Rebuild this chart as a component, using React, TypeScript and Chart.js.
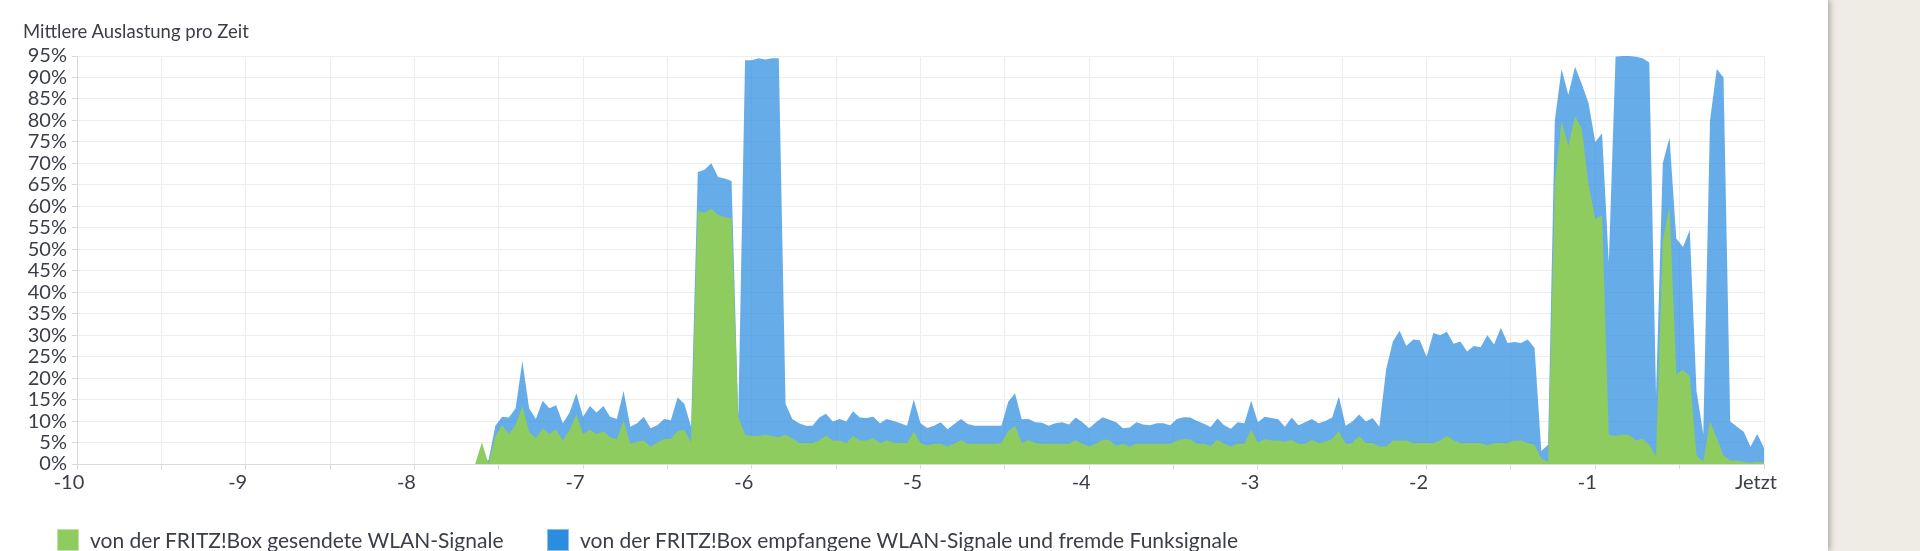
import React, { useEffect, useRef } from "react";
import Chart from "chart.js/auto";

Chart.defaults.font.family = "Lato, 'Noto Sans', sans-serif";

// time axis: minutes before "Jetzt", one sample every 0.04
const START_TIME = -7.64;
const TIME_STEP = 0.04;

// green: sent by the FRITZ!Box (%)
const sentValues = [
  0, 5, 0, 6.5, 9, 7, 9, 13.5, 7.5, 6,
  8.3, 7, 8, 5.5, 8, 11.5, 7, 8, 7, 7.6,
  6.2, 5.8, 10, 4.8, 5.2, 5.5, 4, 5, 5.8, 5.9,
  7.6, 8, 5, 58.9, 58.5, 59.5, 58, 57.5, 57.2, 11,
  6.8, 6.5, 6.5, 6.8, 6.5, 6.2, 6.8, 6, 4.9, 4.9,
  4.9, 5.5, 6.6, 5.5, 5.5, 4.9, 6.5, 5.5, 5.5, 6,
  4.9, 5.5, 5, 4.9, 4.9, 7.5, 4.9, 4.3, 4.7, 4.7,
  4.1, 4.7, 5.6, 4.7, 4.7, 4.7, 4.7, 4.7, 4.9, 7.6,
  8.9, 4.9, 5.6, 4.9, 4.7, 4.7, 4.7, 4.7, 4.7, 5.6,
  4.7, 4.1, 4.7, 5.7, 5.6, 4.2, 4.7, 4.1, 4.7, 4.7,
  4.7, 4.7, 4.7, 4.7, 5.5, 5.8, 5.7, 4.7, 4.7, 4.2,
  5.7, 4.7, 4.1, 4.7, 4.7, 8, 5, 5.8, 5.5, 5.5,
  5.2, 5.6, 4.7, 4.7, 5.6, 4.9, 5.2, 5.9, 7.6, 4.7,
  4.9, 6.5, 4.9, 4.9, 4.1, 4.1, 5.5, 5.5, 5.5, 4.9,
  4.9, 4.9, 4.9, 5.5, 6.6, 5.5, 4.9, 4.9, 4.9, 4.9,
  4.3, 4.9, 4.9, 4.9, 5.5, 5.5, 4.9, 4.5, 1.2, 0.5,
  65, 80, 74, 81, 78, 65, 57, 58, 6.8, 6.5,
  6.8, 6.8, 5.5, 5.9, 4.5, 1.8, 52, 60, 21, 21.9,
  20.5, 2, 0.5, 10, 6, 2, 0.8, 0.8, 0.5, 0.3,
  0.5, 0.3,
];

// blue: received WLAN signals and foreign radio signals, drawn as the total (%)
const totalValues = [
  0, 0, 1, 8.9, 11, 10.8, 13, 24, 13, 10.5,
  14.7, 13, 13.7, 9.5, 12, 16.5, 11, 13.5, 12, 13.5,
  11, 10.5, 17, 8.7, 9.5, 11, 8.3, 9, 10.5, 10.2,
  15.5, 14, 8.7, 68, 68.5, 70, 66.8, 66.5, 65.9, 11,
  94, 94, 94.5, 94.2, 94.5, 94.5, 14, 10.5, 9.5, 8.9,
  8.9, 10.8, 11.7, 9.9, 10.5, 9.9, 12.3, 10.8, 10.7, 11,
  9.5, 10.5, 10, 9.5, 8.9, 15, 9.5, 8.4, 8.9, 9.7,
  8.1, 9.3, 10.5, 9.3, 8.9, 8.9, 8.9, 8.9, 8.9, 14.5,
  16.5, 10.4, 10.5, 9.7, 9.6, 8.9, 9.5, 9.7, 9.2, 10.8,
  9.7, 8.3, 9.7, 10.9, 10.3, 9.7, 8.3, 8.5, 9.7, 9.2,
  9, 9.5, 9.5, 9, 10.5, 10.9, 10.8, 10, 9.4, 8.6,
  10.6, 9, 8.2, 9.7, 9.5, 14.7, 9.7, 11, 10.7, 10.4,
  8.7, 10.8, 9, 9.7, 10.5, 9.5, 10, 10.8, 15.7, 8.9,
  9.9, 11.5, 9.9, 10.7, 8.7, 22, 28.5, 31, 27.5, 29,
  28.8, 25, 30.5, 30, 30.8, 28, 28.5, 26.2, 27.5, 27.2,
  30, 27.8, 31.7, 28.2, 28.4, 28.2, 29, 27, 3, 4.5,
  80, 92, 86, 92.5, 88.5, 84, 75, 77, 47, 94.8,
  95, 95, 94.8, 94.5, 93.5, 16, 70, 76, 52.5, 50.5,
  54.5, 17, 7, 80, 92, 90, 9.9, 8.7, 7.5, 4,
  7, 3.7,
];

const xTickLabels = ["-10", "-9", "-8", "-7", "-6", "-5", "-4", "-3", "-2", "-1", "Jetzt"];

const legendLabels = [
  "von der FRITZ!Box gesendete WLAN-Signale",
  "von der FRITZ!Box empfangene WLAN-Signale und fremde Funksignale",
];

const TEXT_COLOR = "#3b3e48";
const GRID_COLOR = "#ededed";
const AXIS_COLOR = "#d9d9d9";
const GREEN = "rgb(143, 204, 96)";
const BLUE_FILL = "rgba(43, 140, 224, 0.72)";
const BLUE = "rgb(43, 140, 224)";

const toPoints = (values: number[]) =>
  values.map((y, i) => ({ x: +(START_TIME + i * TIME_STEP).toFixed(2), y }));

const UsageChart: React.FC = () => {
  const canvasRef = useRef<HTMLCanvasElement>(null);
  const chartRef = useRef<Chart<"line"> | null>(null);

  useEffect(() => {
    if (!canvasRef.current) return;
    const ctx = canvasRef.current.getContext("2d");
    if (!ctx) return;

    if (chartRef.current) {
      chartRef.current.destroy();
    }

    chartRef.current = new Chart(ctx, {
      type: "line",
      data: {
        datasets: [
          {
            label: legendLabels[0],
            data: toPoints(sentValues),
            backgroundColor: GREEN,
            borderColor: GREEN,
            borderWidth: 0,
            fill: "origin",
          },
          {
            label: legendLabels[1],
            data: toPoints(totalValues),
            backgroundColor: BLUE_FILL,
            borderColor: BLUE_FILL,
            borderWidth: 0,
            fill: "origin",
          },
        ],
      },
      options: {
        animation: false,
        responsive: false,
        maintainAspectRatio: false,
        layout: { padding: { top: 56, right: 64, bottom: 54, left: 0 } },
        elements: {
          point: { radius: 0, hoverRadius: 0 },
          line: { tension: 0 },
        },
        plugins: {
          legend: { display: false },
          tooltip: { enabled: false },
        },
        scales: {
          x: {
            type: "linear",
            min: -10,
            max: 0,
            grid: { color: GRID_COLOR, tickColor: AXIS_COLOR, tickLength: 5 },
            border: { color: AXIS_COLOR },
            ticks: {
              stepSize: 0.5,
              autoSkip: false,
              maxRotation: 0,
              padding: 2,
              labelOffset: -8,
              color: TEXT_COLOR,
              font: { size: 20 },
              callback: (value) => {
                const v = Number(value);
                return Number.isInteger(v) ? xTickLabels[v + 10] : "";
              },
            },
          },
          y: {
            min: 0,
            max: 95,
            afterFit: (scale) => {
              scale.width = 77;
            },
            grid: { color: GRID_COLOR, tickColor: AXIS_COLOR, tickLength: 5 },
            border: { color: AXIS_COLOR },
            ticks: {
              stepSize: 5,
              autoSkip: false,
              padding: 5,
              color: TEXT_COLOR,
              font: { size: 20 },
              callback: (value) => value + "%",
            },
          },
        },
      },
    });

    return () => {
      if (chartRef.current) {
        chartRef.current.destroy();
        chartRef.current = null;
      }
    };
  }, []);

  return <canvas ref={canvasRef} width={1828} height={551} style={{ display: "block" }} />;
};

const App: React.FC = () => {
  const legendColors = [GREEN, BLUE];
  const legendLeft = [57, 547];

  return (
    <div
      style={{
        position: "fixed",
        left: 0,
        top: 0,
        width: 1920,
        height: 551,
        background: "#efece6",
        overflow: "hidden",
      }}
    >
      <div
        style={{
          position: "absolute",
          left: 0,
          top: 0,
          width: 1828,
          height: 551,
          background: "#fff",
          boxShadow: "2px 0 6px rgba(0, 0, 0, 0.3)",
        }}
      >
        <UsageChart />
        <div
          style={{
            position: "absolute",
            left: 23,
            top: 20,
            fontFamily: "Lato, sans-serif",
            fontSize: 18.5,
            lineHeight: "22px",
            color: TEXT_COLOR,
          }}
        >
          Mittlere Auslastung pro Zeit
        </div>
        {legendLabels.map((label, i) => (
          <div
            key={label}
            style={{
              position: "absolute",
              left: legendLeft[i],
              top: 529,
              display: "flex",
              alignItems: "center",
              fontFamily: "Lato, sans-serif",
              fontSize: 21,
              lineHeight: "22px",
              color: TEXT_COLOR,
              whiteSpace: "nowrap",
            }}
          >
            <span
              style={{
                display: "inline-block",
                width: 20,
                height: 20,
                background: legendColors[i],
                border: "1px solid rgba(255,255,255,0.45)",
                marginRight: 11,
              }}
            />
            {label}
          </div>
        ))}
      </div>
    </div>
  );
};

export default App;
